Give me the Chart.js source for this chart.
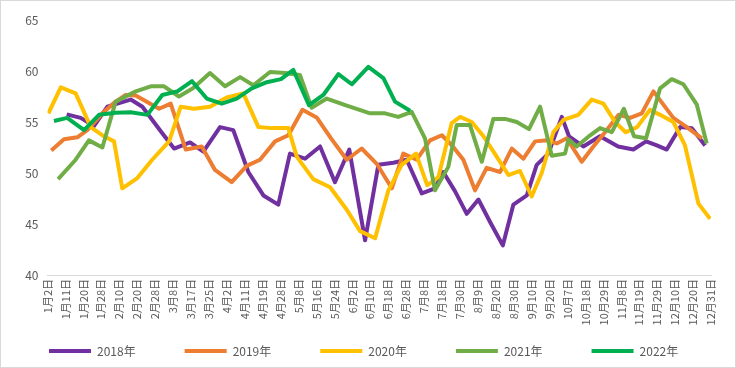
<!DOCTYPE html>
<html>
<head>
<meta charset="utf-8">
<script src="https://cdn.jsdelivr.net/npm/chart.js@4.4.1/dist/chart.umd.min.js"></script>
<style>
html, body { margin: 0; padding: 0; background: #fff; }
</style>
</head>
<body>
<canvas id="c" width="736" height="368"></canvas>
<script>
'use strict';

// 横軸の表示ラベル (38個)
const tickLabels = ['1月2日', '1月11日', '1月20日', '1月28日', '2月10日', '2月20日', '2月28日', '3月8日', '3月17日', '3月25日',
	'4月2日', '4月11日', '4月19日', '4月28日', '5月8日', '5月16日', '5月24日', '6月2日', '6月10日', '6月18日',
	'6月28日', '7月8日', '7月18日', '7月30日', '8月9日', '8月20日', '8月30日', '9月10日', '9月20日', '10月7日',
	'10月18日', '10月29日', '11月8日', '11月19日', '11月29日', '12月10日', '12月20日', '12月31日'];

const seriesNames = ['2018年', '2019年', '2020年', '2021年', '2022年'];

// 位置はラベル単位 (0 = 1月2日, 37 = 12月31日)
const pos2018 = [1.07, 1.85, 2.59, 3.34, 4.64, 5.29, 6.40, 7.06, 7.95, 8.69, 9.62, 10.36, 11.20, 12.04, 12.87, 13.52, 14.36, 15.20, 16.03, 16.83,
	17.71, 18.45, 19.29, 20.03, 20.87, 21.61, 22.07, 22.73, 23.38, 24.03, 24.68, 25.39, 25.98, 26.73, 27.28, 27.93, 28.68, 29.08, 29.88, 30.81,
	31.82, 32.67, 33.38, 33.98, 34.53, 35.28, 35.93, 36.67];
const val2018 = [55.75, 55.4, 54.6, 56.5, 57.2, 56.5, 53.9, 52.4, 53.0, 52.1, 54.5, 54.2, 50.1, 47.8, 46.9, 51.9, 51.4, 52.6, 49.1, 52.3,
	43.4, 50.8, 51.0, 51.3, 48.0, 48.5, 50.1, 48.2, 46.0, 47.4, 45.2, 42.9, 46.9, 47.8, 50.8, 51.9, 55.5, 53.6, 52.6, 53.6,
	52.6, 52.3, 53.1, 52.7, 52.3, 54.5, 54.4, 52.7];

const pos2019 = [0.21, 0.92, 1.66, 2.22, 3.06, 3.80, 4.36, 4.92, 6.22, 6.87, 7.71, 8.60, 9.34, 10.27, 11.11, 11.85, 12.69, 13.43, 14.22, 15.01,
	15.81, 16.69, 17.52, 18.36, 19.20, 19.84, 20.59, 21.33, 21.99, 22.56, 23.19, 23.84, 24.49, 25.24, 25.89, 26.54, 27.19, 27.84, 28.40, 28.96,
	29.79, 30.44, 31.09, 31.84, 32.49, 33.14, 33.79, 34.90, 35.65, 36.49];
const val2019 = [52.2, 53.3, 53.5, 54.2, 55.85, 57.0, 57.65, 57.6, 56.3, 56.8, 52.3, 52.6, 50.3, 49.1, 50.7, 51.3, 53.1, 53.7, 56.2, 55.45,
	53.4, 51.3, 52.4, 50.9, 48.5, 51.9, 51.3, 53.2, 53.7, 52.7, 51.3, 48.3, 50.5, 50.1, 52.4, 51.4, 53.1, 53.2, 52.9, 53.4,
	51.1, 52.6, 54.0, 55.7, 55.4, 55.85, 58.0, 55.4, 54.5, 53.4];

const pos2020 = [0.05, 0.74, 1.57, 2.41, 3.15, 3.71, 4.17, 5.01, 5.84, 6.78, 7.43, 8.17, 9.06, 9.99, 10.92, 11.76, 12.50, 13.43, 13.90, 14.82,
	15.76, 16.69, 17.43, 18.27, 19.01, 19.75, 20.55, 21.18, 21.80, 22.54, 23.01, 23.66, 24.31, 25.05, 25.70, 26.35, 27.00, 27.56, 28.21, 28.77,
	29.60, 30.35, 31.00, 31.65, 32.24, 32.88, 33.60, 34.16, 34.90, 35.55, 36.30, 36.95];
const val2020 = [55.85, 58.4, 57.8, 54.5, 53.6, 53.1, 48.5, 49.5, 51.3, 53.1, 56.5, 56.3, 56.5, 57.4, 57.8, 54.5, 54.4, 54.4, 51.6, 49.4,
	48.6, 46.4, 44.3, 43.6, 48.3, 50.8, 51.9, 48.8, 49.6, 54.9, 55.5, 55.0, 53.6, 51.6, 49.8, 50.2, 47.7, 50.0, 54.0, 55.2,
	55.7, 57.2, 56.8, 55.0, 54.0, 54.5, 56.2, 55.7, 55.0, 52.7, 47.0, 45.5];

const pos2021 = [0.59, 1.57, 2.31, 3.06, 3.80, 4.92, 5.76, 6.50, 7.33, 8.11, 9.06, 9.90, 10.74, 11.48, 12.41, 13.25, 14.08, 14.73, 15.57, 16.69,
	17.99, 18.82, 19.56, 20.31, 21.05, 21.61, 22.35, 22.82, 23.56, 24.22, 24.86, 25.52, 26.17, 26.85, 27.47, 28.12, 28.86, 29.05, 29.51, 30.26,
	30.81, 31.47, 32.14, 32.71, 33.38, 34.16, 34.81, 35.46, 36.21, 36.76];
const val2021 = [49.4, 51.3, 53.2, 52.5, 57.0, 58.0, 58.5, 58.5, 57.5, 58.3, 59.8, 58.5, 59.4, 58.6, 59.9, 59.8, 59.6, 56.4, 57.3, 56.6,
	55.85, 55.85, 55.5, 56.0, 53.4, 48.3, 50.6, 54.7, 54.7, 51.1, 55.3, 55.3, 55.0, 54.3, 56.5, 51.7, 51.9, 53.3, 52.6, 53.7,
	54.4, 54.0, 56.3, 53.6, 53.4, 58.3, 59.2, 58.7, 56.7, 52.9];

const pos2022 = [0.36, 1.10, 2.04, 2.87, 3.80, 4.64, 5.57, 6.40, 7.24, 8.06, 8.88, 9.72, 10.55, 11.39, 12.23, 13.02, 13.71, 14.58, 15.38, 16.22,
	16.97, 17.89, 18.73, 19.38, 20.22];
const val2022 = [55.1, 55.4, 54.2, 55.7, 55.9, 55.95, 55.7, 57.65, 58.0, 59.0, 57.3, 56.8, 57.3, 58.3, 58.9, 59.2, 60.1, 56.65, 57.65, 59.7,
	58.7, 60.4, 59.3, 57.0, 56.1];

const colors = ['#7030A0', '#ED7D31', '#FFC000', '#70AD47', '#00B050'];

const posList = [pos2018, pos2019, pos2020, pos2021, pos2022];
const valList = [val2018, val2019, val2020, val2021, val2022];

const fontFamily = "'Noto Sans CJK SC', 'Noto Sans', sans-serif";
Chart.defaults.font.family = fontFamily;
Chart.defaults.color = '#595959';

let datasets = [];
for(let i = 0; i < seriesNames.length; i++){
	datasets.push({
		label: seriesNames[i],
		data: posList[i].map((p, n) => ({x: p, y: valList[i][n]})),
		borderColor: colors[i],
		backgroundColor: colors[i],
		borderWidth: 4,
		borderJoinStyle: 'round',
		pointRadius: 0,
		pointHoverRadius: 0,
		pointStyle: 'line',
		tension: 0,
		fill: false,
		order: seriesNames.length - i // excelと同じく後の系列を上に描く
	});
}

// 外枠
const frame = {
	id: 'frame',
	afterDraw(chart){
		const ctx = chart.ctx;
		ctx.save();
		ctx.strokeStyle = '#D9D9D9';
		ctx.lineWidth = 1;
		ctx.strokeRect(0.5, 0.5, chart.width - 1, chart.height - 1);
		ctx.restore();
	}
};

new Chart(document.getElementById('c'), {
	type: 'line',
	data: { datasets: datasets },
	plugins: [frame],
	options: {
		responsive: false,
		animation: false,
		devicePixelRatio: 1,
		layout: { padding: { left: 0, right: 0, top: 20, bottom: 1 } },
		plugins: {
			tooltip: { enabled: false },
			legend: {
				position: 'bottom',
				align: 'start',
				labels: {
					usePointStyle: true,
					pointStyleWidth: 42,
					padding: 49,
					color: '#595959',
					font: { size: 12, family: fontFamily },
					sort: (a, b) => a.datasetIndex - b.datasetIndex
				}
			}
		},
		scales: {
			x: {
				type: 'linear',
				min: 0,
				max: tickLabels.length - 1,
				afterFit: (s) => {
					s.height = 21;
					// 縦書きラベルは凡例の余白側へはみ出すので切り取らない
					s._computeLabelArea = () => undefined;
				},
				grid: { display: false, drawTicks: false },
				border: { display: true, color: '#D9D9D9', width: 1 },
				ticks: {
					stepSize: 1,
					autoSkip: false,
					maxRotation: 90,
					minRotation: 90,
					padding: 4,
					color: '#595959',
					font: { size: 11 },
					callback: (v) => tickLabels[v]
				}
			},
			y: {
				min: 40,
				max: 65,
				afterFit: (s) => { s.width = 47.5; },
				grid: { display: false, drawTicks: false },
				border: { display: false },
				ticks: {
					stepSize: 5,
					padding: 9,
					color: '#595959',
					font: { size: 12 }
				}
			},
			// 右側の余白用
			yRight: {
				type: 'linear',
				position: 'right',
				afterFit: (s) => { s.width = 25; },
				grid: { display: false, drawTicks: false },
				border: { display: false },
				ticks: { display: false }
			}
		}
	}
});
</script>
</body>
</html>
